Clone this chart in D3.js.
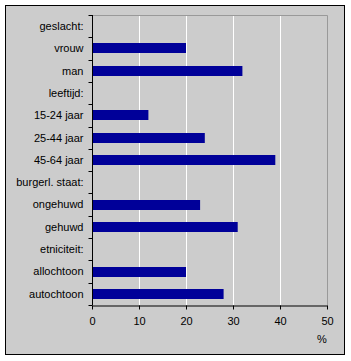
<!DOCTYPE html>
<html>
<head>
<meta charset="utf-8">
<script src="https://cdn.jsdelivr.net/npm/d3@7"></script>
<style>
  body { margin: 0; background: #fff; }
  text { font-family: "Liberation Sans", Arial, sans-serif; font-size: 11px; fill: #000; }
</style>
</head>
<body>
<div id="chart"></div>
<script>
// Categories top to bottom; headers have no value
const categories = ["geslacht:", "vrouw", "man", "leeftijd:", "15-24 jaar", "25-44 jaar",
  "45-64 jaar", "burgerl. staat:", "ongehuwd", "gehuwd", "etniciteit:", "allochtoon", "autochtoon"];
const values = [null, 20, 32, null, 12, 24, 39, null, 23, 31, null, 20, 28];
const xTicks = [0, 10, 20, 30, 40, 50];

const data = categories.map((c, i) => ({ cat: c, val: values[i] }));

const width = 351, height = 361;
const margin = { top: 15, right: 24, bottom: 56, left: 92 };

const svg = d3.select("#chart").append("svg")
  .attr("width", width)
  .attr("height", height);

// outer frame
svg.append("rect")
  .attr("x", 5.5).attr("y", 5.5)
  .attr("width", 339).attr("height", 349)
  .attr("fill", "#cccccc")
  .attr("stroke", "#000");

const x = d3.scaleLinear()
  .domain([0, 50])
  .range([margin.left, width - margin.right]);

const y = d3.scaleBand()
  .domain(categories)
  .range([margin.top, height - margin.bottom])
  .paddingInner(0.55)
  .paddingOuter(0.275);

// white gridlines
svg.selectAll("line.grid")
  .data(xTicks.slice(1, -1))
  .enter().append("line")
  .attr("x1", d => Math.round(x(d)) + 0.5)
  .attr("x2", d => Math.round(x(d)) + 0.5)
  .attr("y1", margin.top)
  .attr("y2", height - margin.bottom)
  .attr("stroke", "#fff");

// plot area top/right border
svg.append("path")
  .attr("d", `M${margin.left},${margin.top + 0.5}H${Math.round(x(50)) + 0.5}V${height - margin.bottom}`)
  .attr("fill", "none")
  .attr("stroke", "#999");

// bars
svg.selectAll("rect.bar")
  .data(data.filter(d => d.val != null))
  .enter().append("rect")
  .attr("x", x(0))
  .attr("y", d => Math.round(y(d.cat)))
  .attr("width", d => x(d.val) - x(0))
  .attr("height", Math.round(y.bandwidth()))
  .attr("fill", "#000099");

// Y axis: ticks between categories
const yAxis = svg.append("g")
  .attr("transform", `translate(${margin.left + 0.5},0)`);
yAxis.append("line")
  .attr("y1", margin.top).attr("y2", height - margin.bottom)
  .attr("stroke", "#000");
const rowH = (height - margin.top - margin.bottom) / categories.length;
yAxis.selectAll("line.tk")
  .data(d3.range(categories.length + 1))
  .enter().append("line")
  .attr("x1", -4).attr("x2", 0)
  .attr("y1", i => Math.round(margin.top + i * rowH) + 0.5)
  .attr("y2", i => Math.round(margin.top + i * rowH) + 0.5)
  .attr("stroke", "#000");
yAxis.selectAll("text")
  .data(categories)
  .enter().append("text")
  .attr("x", -9)
  .attr("y", d => y(d) + y.bandwidth() / 2)
  .attr("dy", "0.35em")
  .attr("text-anchor", "end")
  .text(d => d);

// X axis
const xAxis = svg.append("g")
  .attr("transform", `translate(0,${height - margin.bottom + 0.5})`)
  .call(d3.axisBottom(x).tickValues(xTicks).tickSize(4).tickSizeOuter(0));
xAxis.select(".domain").attr("stroke", "#000");
xAxis.selectAll(".tick line").attr("stroke", "#000");
xAxis.selectAll("text")
  .attr("font-family", "Liberation Sans, Arial, sans-serif")
  .attr("font-size", 11)
  .attr("y", 12)
  .attr("fill", "#000");

svg.append("text")
  .attr("x", x(50) - 5)
  .attr("y", 343)
  .attr("text-anchor", "middle")
  .text("%");
</script>
</body>
</html>
